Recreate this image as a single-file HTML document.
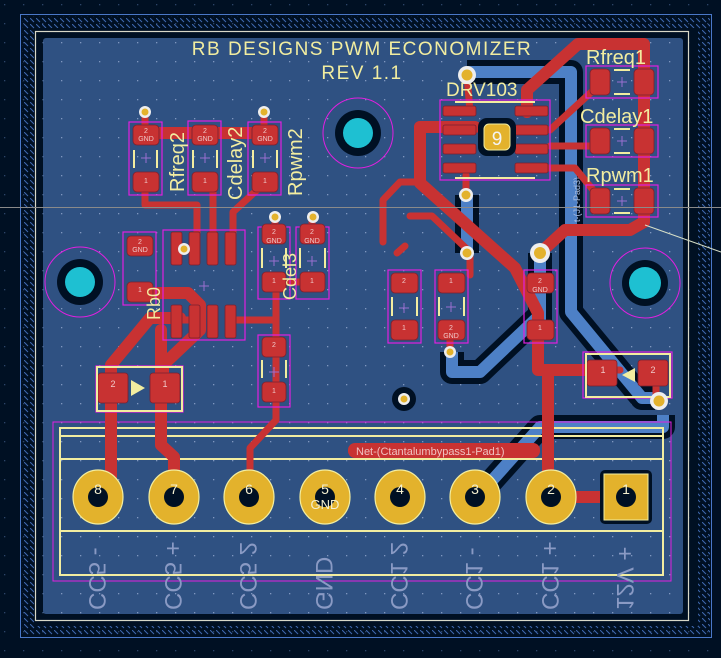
<!DOCTYPE html>
<html><head><meta charset="utf-8"><style>
html,body{margin:0;padding:0;background:#001023;}
svg{display:block;}
text{font-family:"Liberation Sans",sans-serif;}
</style></head><body>
<svg width="721" height="658" viewBox="0 0 721 658" xmlns="http://www.w3.org/2000/svg">
<defs>
<pattern id="hat" width="6" height="6" patternUnits="userSpaceOnUse"><path d="M0 0 L4 4" stroke="#3f68b0" stroke-width="1"/></pattern>
<pattern id="grid" width="19" height="19" patternUnits="userSpaceOnUse" x="4" y="4"><rect x="0" y="0" width="1.3" height="1.3" fill="#7f97c0"/></pattern>
<pattern id="grid2" width="19" height="19" patternUnits="userSpaceOnUse" x="4" y="4"><rect x="0" y="0" width="1.3" height="1.3" fill="#2c4468"/></pattern>
</defs>
<rect width="721" height="658" fill="#001023"/>
<rect width="721" height="658" fill="url(#grid2)"/>
<path d="M22 16 H710 V636 H22 Z M34 28 V626 H698 V28 Z" fill="url(#hat)" fill-rule="evenodd"/>
<rect x="20.5" y="14.5" width="691" height="623" fill="none" stroke="#4a78c8"/>
<rect x="35.5" y="31.5" width="653" height="589" fill="none" stroke="#d8d8c8" stroke-width="1.2"/>
<rect x="43" y="38" width="640" height="576" rx="3" fill="#2f5182"/>
<rect x="43" y="38" width="640" height="576" fill="url(#grid)"/>

<g fill="none" stroke-linejoin="round">
<g stroke="#001023" stroke-width="24">
<path d="M467 72 H571 V312 L642 398 H655"/>
<path d="M467 195 V253"/>
<path d="M540 253 V330"/>
<path d="M452 352 V372 H480 L540 315"/>
<path d="M663 415 V427 H540 L488 485"/>
</g>
<g stroke="#4d80c6" stroke-width="12">
<path d="M467 72 H571 V312 L642 398 H655"/>
<path d="M467 195 V253"/>
<path d="M540 253 V330"/>
<path d="M452 352 V372 H480 L540 315"/>
<path d="M663 415 V427 H540 L488 485"/>
</g>
</g>
<text transform="translate(580,222) rotate(-90)" font-size="9" fill="#a8bce0">t-(J1-Pad3)</text>

<g>
<circle cx="80" cy="282" r="35" fill="none" stroke="#e020e0"/>
<circle cx="80" cy="282" r="23" fill="#001023"/>
<circle cx="80" cy="282" r="15" fill="#1ec0d2"/>
<circle cx="645" cy="283" r="35" fill="none" stroke="#e020e0"/>
<circle cx="645" cy="283" r="23" fill="#001023"/>
<circle cx="645" cy="283" r="16" fill="#1ec0d2"/>
<circle cx="358" cy="133" r="35" fill="none" stroke="#e020e0"/>
<circle cx="358" cy="133" r="23" fill="#001023"/>
<circle cx="358" cy="133" r="15" fill="#1ec0d2"/>
</g>

<text x="362" y="55" font-size="19" fill="#f2eda0" text-anchor="middle" letter-spacing="1.5">RB DESIGNS PWM ECONOMIZER</text>
<text x="362" y="79" font-size="19" fill="#f2eda0" text-anchor="middle" letter-spacing="1.5">REV 1.1</text>

<g fill="none">
<rect x="53" y="422" width="618" height="159" stroke="#e020e0"/>
<rect x="60" y="428" width="603" height="147" stroke="#f2eda0" stroke-width="2"/>
<line x1="60" y1="436" x2="663" y2="436" stroke="#f2eda0" stroke-width="2"/>
<line x1="60" y1="459" x2="663" y2="459" stroke="#f2eda0" stroke-width="2"/>
<line x1="60" y1="531" x2="663" y2="531" stroke="#f2eda0" stroke-width="2"/>
</g>
<g font-size="24" fill="#8a9ac4">
<text transform="translate(89,610) rotate(-90) scale(1,-1)">CC5 -</text>
<text transform="translate(165,610) rotate(-90) scale(1,-1)">CC5 +</text>
<text transform="translate(240,610) rotate(-90) scale(1,-1)">CC5 2</text>
<text transform="translate(316,610) rotate(-90) scale(1,-1)">GND</text>
<text transform="translate(391,610) rotate(-90) scale(1,-1)">CC1 2</text>
<text transform="translate(466,610) rotate(-90) scale(1,-1)">CC1 -</text>
<text transform="translate(542,610) rotate(-90) scale(1,-1)">CC1 +</text>
<text transform="translate(617,610) rotate(-90) scale(1,-1)">12V +</text>
</g>

<g fill="none" stroke="#c83232" stroke-linejoin="round" stroke-linecap="round">
<g stroke-width="12">
<path d="M111 488 V365 L150 318 H180"/>
<path d="M163 385 V365 L200 330 V305 L188 293 H135"/>
<path d="M161 330 V445 L174 457 V480"/>
<path d="M420 127 H475"/>
<path d="M420 127 V183 L515 268 L538 313 V370 H602"/>
<path d="M548 370 V497"/>
<path d="M551 497 H626"/>
<path d="M527 112 V90 L578 44 H644 V222 L630 230 H565 L540 253"/>
<path d="M140 133 H268"/>
</g>
<g stroke-width="7">
<path d="M145 185 V205 H197 V260"/>
<path d="M213 190 V262"/>
<path d="M257 190 L233 212 V262"/>
<path d="M276 284 V420 L250 448 V490"/>
<path d="M235 320 H276"/>
<path d="M276 282 H312"/>
<path d="M383 242 V200 L400 182 H420"/>
<path d="M410 216 H432 L470 252 V275"/>
<path d="M405 246 L397 253"/>
<path d="M598 86 L550 130"/>
<path d="M598 146 H550"/>
<path d="M548 168 H575 L598 196"/>
<path d="M466 195 V175"/>
<path d="M467 75 L470 112"/>
<path d="M145 112 V128"/>
<path d="M264 112 V128"/>
<path d="M275 222 V235"/>
<path d="M312 222 V240"/>
<path d="M450 350 V335"/>
<path d="M656 400 V378"/>
<path d="M605 370 H620"/>
<path d="M181 320 H200"/>
</g>
</g>

<rect x="348" y="443" width="192" height="15" rx="7" fill="#c83232"/>
<text x="356" y="455" font-size="11" fill="#f0c0c0">Net-(Ctantalumbypass1-Pad1)</text>

<g>
<g fill="#e3b22c" stroke="#f2eda0" stroke-width="1.2">
<ellipse cx="98" cy="497" rx="25" ry="27"/>
<ellipse cx="174" cy="497" rx="25" ry="27"/>
<ellipse cx="249" cy="497" rx="25" ry="27"/>
<ellipse cx="325" cy="497" rx="25" ry="27"/>
<ellipse cx="400" cy="497" rx="25" ry="27"/>
<ellipse cx="475" cy="497" rx="25" ry="27"/>
<ellipse cx="551" cy="497" rx="25" ry="27"/>
</g>
<rect x="600" y="470" width="52" height="54" rx="5" fill="#001023"/>
<rect x="604" y="474" width="44" height="46" fill="#e3b22c" stroke="#f2eda0"/>
<g fill="#001023">
<circle cx="98" cy="497" r="10"/><circle cx="174" cy="497" r="10"/><circle cx="249" cy="497" r="10"/><circle cx="325" cy="497" r="10"/><circle cx="400" cy="497" r="10"/><circle cx="475" cy="497" r="10"/><circle cx="551" cy="497" r="10"/><circle cx="626" cy="497" r="10"/>
</g>
<g font-size="14" fill="#f4f0d0" text-anchor="middle">
<text x="98" y="494">8</text><text x="174" y="494">7</text><text x="249" y="494">6</text><text x="325" y="494">5</text><text x="400" y="494">4</text><text x="475" y="494">3</text><text x="551" y="494">2</text><text x="626" y="494">1</text>
<text x="325" y="509" font-size="13">GND</text>
</g>
</g>

<g>
<g fill="none" stroke="#e020e0" stroke-width="1.2">
<rect x="129" y="122" width="33" height="73"/><rect x="188" y="121" width="33" height="74"/><rect x="248" y="122" width="33" height="73"/>
<rect x="123" y="232" width="33" height="73"/>
<rect x="258" y="227" width="32" height="72"/><rect x="296" y="227" width="33" height="72"/>
<rect x="258" y="335" width="32" height="72"/>
<rect x="388" y="270" width="33" height="73"/><rect x="435" y="270" width="33" height="73"/><rect x="524" y="270" width="33" height="73"/>
<rect x="163" y="230" width="82" height="110"/>
<rect x="440" y="100" width="110" height="80"/>
<rect x="586" y="66" width="72" height="32"/><rect x="586" y="125" width="72" height="32"/><rect x="586" y="185" width="72" height="32"/>
<rect x="96" y="366" width="87" height="46"/><rect x="583" y="352" width="89" height="46"/>
</g>
<g fill="#c83232" stroke="#7a2030" stroke-width="0.8">
<rect x="133" y="125" width="26" height="20" rx="4"/><rect x="133" y="172" width="26" height="20" rx="4"/>
<rect x="192" y="125" width="26" height="20" rx="4"/><rect x="192" y="172" width="26" height="20" rx="4"/>
<rect x="252" y="125" width="26" height="20" rx="4"/><rect x="252" y="172" width="26" height="20" rx="4"/>
<rect x="127" y="236" width="26" height="20" rx="4"/><rect x="127" y="282" width="26" height="20" rx="4"/>
<rect x="262" y="224" width="24" height="20" rx="4"/><rect x="262" y="272" width="24" height="20" rx="4"/>
<rect x="300" y="224" width="25" height="20" rx="4"/><rect x="300" y="272" width="25" height="20" rx="4"/>
<rect x="262" y="337" width="24" height="20" rx="4"/><rect x="262" y="382" width="24" height="20" rx="4"/>
<rect x="391" y="273" width="27" height="20" rx="4"/><rect x="391" y="320" width="27" height="20" rx="4"/>
<rect x="438" y="273" width="27" height="20" rx="4"/><rect x="438" y="320" width="27" height="20" rx="4"/>
<rect x="527" y="273" width="27" height="20" rx="4"/><rect x="527" y="320" width="27" height="20" rx="4"/>
<rect x="590" y="69" width="20" height="26" rx="4"/><rect x="634" y="69" width="20" height="26" rx="4"/>
<rect x="590" y="128" width="20" height="26" rx="4"/><rect x="634" y="128" width="20" height="26" rx="4"/>
<rect x="590" y="188" width="20" height="26" rx="4"/><rect x="634" y="188" width="20" height="26" rx="4"/>
<rect x="98" y="373" width="30" height="30" rx="3"/><rect x="150" y="373" width="30" height="30" rx="3"/>
<rect x="587" y="360" width="30" height="26" rx="3"/><rect x="638" y="360" width="30" height="26" rx="3"/>
<rect x="171" y="232" width="11" height="33" rx="2"/><rect x="189" y="232" width="11" height="33" rx="2"/><rect x="207" y="232" width="11" height="33" rx="2"/><rect x="225" y="232" width="11" height="33" rx="2"/>
<rect x="171" y="305" width="11" height="33" rx="2"/><rect x="189" y="305" width="11" height="33" rx="2"/><rect x="207" y="305" width="11" height="33" rx="2"/><rect x="225" y="305" width="11" height="33" rx="2"/>
<rect x="443" y="106" width="33" height="10" rx="2"/><rect x="443" y="125" width="33" height="10" rx="2"/><rect x="443" y="144" width="33" height="10" rx="2"/><rect x="443" y="163" width="33" height="10" rx="2"/>
<rect x="515" y="106" width="33" height="10" rx="2"/><rect x="515" y="125" width="33" height="10" rx="2"/><rect x="515" y="144" width="33" height="10" rx="2"/><rect x="515" y="163" width="33" height="10" rx="2"/>
</g>
<g fill="none" stroke="#f2eda0" stroke-width="2">
<line x1="134" y1="150" x2="134" y2="168"/><line x1="157" y1="150" x2="157" y2="168"/>
<line x1="193" y1="150" x2="193" y2="168"/><line x1="217" y1="150" x2="217" y2="168"/>
<line x1="253" y1="150" x2="253" y2="168"/><line x1="277" y1="150" x2="277" y2="168"/>
<line x1="262" y1="248" x2="262" y2="268"/><line x1="286" y1="248" x2="286" y2="268"/>
<line x1="300" y1="248" x2="300" y2="268"/><line x1="325" y1="248" x2="325" y2="268"/>
<line x1="262" y1="360" x2="262" y2="378"/><line x1="286" y1="360" x2="286" y2="378"/>
<line x1="392" y1="297" x2="392" y2="316"/><line x1="417" y1="297" x2="417" y2="316"/>
<line x1="439" y1="297" x2="439" y2="316"/><line x1="464" y1="297" x2="464" y2="316"/>
<line x1="614" y1="70" x2="630" y2="70"/><line x1="614" y1="94" x2="630" y2="94"/>
<line x1="614" y1="129" x2="630" y2="129"/><line x1="614" y1="153" x2="630" y2="153"/>
<line x1="614" y1="189" x2="630" y2="189"/><line x1="614" y1="213" x2="630" y2="213"/>
<rect x="97" y="367" width="85" height="44"/>
<rect x="586" y="354" width="84" height="43"/>
<line x1="455" y1="102" x2="535" y2="102"/><line x1="455" y1="178" x2="535" y2="178"/>
</g>
<polygon points="131,380 131,396 145,388" fill="#f2eda0"/>
<polygon points="635,368 635,382 622,375" fill="#f2eda0"/>
<rect x="478" y="118" width="38" height="38" rx="9" fill="#001023"/>
<rect x="484" y="124" width="26" height="26" rx="5" fill="#e3b22c" stroke="#f2eda0"/>
<text x="497" y="145" font-size="19" fill="#f4f4f4" text-anchor="middle">9</text>
<g font-size="7" fill="#f0c8c8" text-anchor="middle">
<text x="146" y="133">2</text><text x="146" y="141">GND</text><text x="146" y="183">1</text>
<text x="205" y="133">2</text><text x="205" y="141">GND</text><text x="205" y="183">1</text>
<text x="265" y="133">2</text><text x="265" y="141">GND</text><text x="265" y="183">1</text>
<text x="140" y="244">2</text><text x="140" y="252">GND</text><text x="140" y="292">1</text>
<text x="274" y="234">2</text><text x="274" y="243">GND</text><text x="274" y="283">1</text>
<text x="312" y="234">2</text><text x="312" y="243">GND</text><text x="312" y="283">1</text>
<text x="274" y="347">2</text><text x="274" y="393">1</text>
<text x="404" y="283">2</text><text x="404" y="330">1</text>
<text x="451" y="283">1</text><text x="451" y="330">2</text><text x="451" y="338">GND</text>
<text x="540" y="283">2</text><text x="540" y="292">GND</text><text x="540" y="330">1</text>
<text x="113" y="387" font-size="9">2</text><text x="165" y="387" font-size="9">1</text>
<text x="603" y="373" font-size="9">1</text><text x="653" y="373" font-size="9">2</text>
</g>
<g font-size="20" fill="#f2eda0">
<text x="586" y="64">Rfreq1</text>
<text x="580" y="123">Cdelay1</text>
<text x="586" y="182">Rpwm1</text>
<text x="446" y="96" font-size="19">DRV103</text>
<text transform="translate(184,192) rotate(-90)">Rfreq2</text>
<text transform="translate(242,200) rotate(-90)">Cdelay2</text>
<text transform="translate(302,196) rotate(-90)">Rpwm2</text>
<text transform="translate(160,320) rotate(-90)" font-size="18">Rb0</text>
<text transform="translate(296,300) rotate(-90)" font-size="18">Cdel3</text>
</g>
<g stroke="#9a70d0" stroke-width="1">
<path d="M141 158 h10 M146 153 v10 M200 158 h10 M205 153 v10 M260 158 h10 M265 153 v10 M269 261 h10 M274 256 v10 M307 261 h10 M312 256 v10 M269 372 h10 M274 367 v10 M399 308 h10 M404 303 v10 M446 307 h10 M451 302 v10 M617 82 h10 M622 77 v10 M617 141 h10 M622 136 v10 M617 201 h10 M622 196 v10 M199 286 h10 M204 281 v10"/>
</g>
</g>

<g>
<circle cx="145" cy="112" r="6" fill="#eeeeee"/><circle cx="145" cy="112" r="3.5" fill="#e3b22c"/>
<circle cx="264" cy="112" r="6" fill="#eeeeee"/><circle cx="264" cy="112" r="3.5" fill="#e3b22c"/>
<circle cx="184" cy="249" r="6" fill="#eeeeee"/><circle cx="184" cy="249" r="3.5" fill="#e3b22c"/>
<circle cx="275" cy="217" r="6" fill="#eeeeee"/><circle cx="275" cy="217" r="3.5" fill="#e3b22c"/>
<circle cx="313" cy="217" r="6" fill="#eeeeee"/><circle cx="313" cy="217" r="3.5" fill="#e3b22c"/>
<circle cx="467" cy="75" r="9" fill="#eeeeee"/><circle cx="467" cy="75" r="5.5" fill="#e3b22c"/>
<circle cx="466" cy="195" r="7" fill="#eeeeee"/><circle cx="466" cy="195" r="4.5" fill="#e3b22c"/>
<circle cx="467" cy="253" r="7" fill="#eeeeee"/><circle cx="467" cy="253" r="4.5" fill="#e3b22c"/>
<circle cx="540" cy="253" r="10" fill="#eeeeee"/><circle cx="540" cy="253" r="6" fill="#e3b22c"/>
<circle cx="450" cy="352" r="6" fill="#eeeeee"/><circle cx="450" cy="352" r="3.5" fill="#e3b22c"/>
<circle cx="659" cy="401" r="9" fill="#eeeeee"/><circle cx="659" cy="401" r="5.5" fill="#e3b22c"/>
<circle cx="404" cy="399" r="12" fill="#001023"/><circle cx="404" cy="399" r="6" fill="#eeeeee"/><circle cx="404" cy="399" r="3.5" fill="#e3b22c"/>
</g>

<line x1="0" y1="207.5" x2="721" y2="207.5" stroke="#8a8a8a" stroke-width="1"/>
<line x1="645" y1="225" x2="721" y2="252" stroke="#d8e0c8" stroke-width="1"/>
</svg>
</body></html>
